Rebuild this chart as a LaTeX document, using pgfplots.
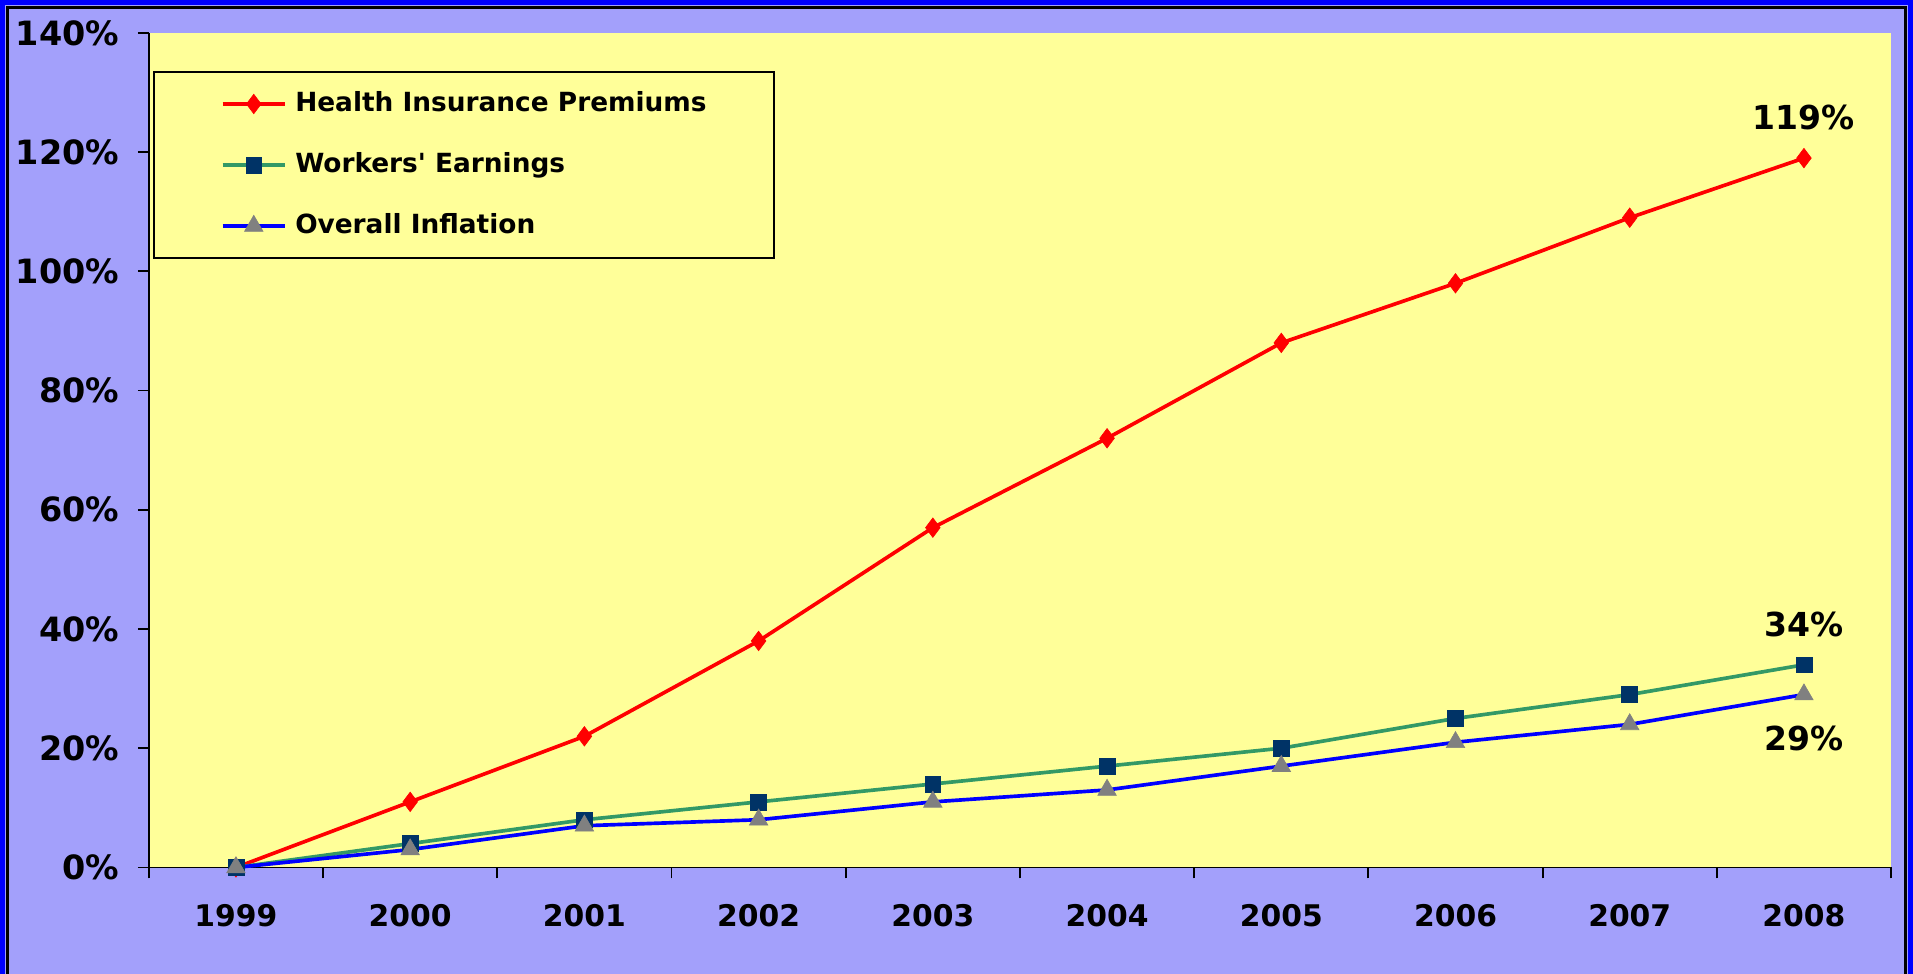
\documentclass[border=0pt]{standalone}
\usepackage{pgfplots}
\pgfplotsset{compat=1.18}
\usepackage{fontspec}
\setmainfont{DejaVu Sans}
\definecolor{bglav}{RGB}{163,160,251}
\definecolor{plotyel}{RGB}{255,255,153}
\definecolor{wgreen}{RGB}{51,153,102}
\definecolor{wnavy}{RGB}{0,51,102}
\definecolor{igray}{RGB}{128,128,128}
\begin{document}
\begin{tikzpicture}
\fill[bglav] (-24.4mm,-17.4mm) rectangle (289.2mm,142.2mm);
\draw[blue, line width=0.8mm] (-24.0mm,-17.4mm) -- (-24.0mm,141.8mm) -- (288.8mm,141.8mm) -- (288.8mm,-17.4mm);
\draw[black, line width=0.4mm] (-23.2mm,-17.4mm) -- (-23.2mm,141.0mm) -- (288.0mm,141.0mm) -- (288.0mm,-17.4mm);
\begin{axis}[
  at={(0,0)}, anchor=south west,
  scale only axis, width=285.6mm, height=136.8mm,
  xmin=-0.5, xmax=9.5, ymin=0, ymax=140,
  axis lines*=left,
  axis line style={black, line width=0.3mm},
  axis background/.style={fill=plotyel},
  clip=false,
  tick align=outside,
  major tick length=1.8mm,
  tick style={black, line width=0.3mm},
  /pgf/number format/assume math mode=true,
  xtick={-0.5,0.5,1.5,2.5,3.5,4.5,5.5,6.5,7.5,8.5,9.5},
  xticklabels={{},{},{},{},{},{},{},{},{},{},{}},
  extra x ticks={0,1,2,3,4,5,6,7,8,9},
  extra x tick labels={1999,2000,2001,2002,2003,2004,2005,2006,2007,2008},
  extra x tick style={major tick length=0pt},
  xticklabel style={font=\fontsize{13.9}{16}\selectfont\bfseries, anchor=base, inner sep=0pt, yshift=-9.6mm},
  ytick={0,20,40,60,80,100,120,140},
  yticklabel={\pgfmathprintnumber{\tick}\%},
  yticklabel style={font=\fontsize{15.6}{18}\selectfont\bfseries, anchor=east, inner sep=0pt, xshift=-3mm},
  legend cell align=left,
  legend style={at={(0.0021,0.9547)}, anchor=north west, draw=black, line width=0.4mm,
    fill=plotyel, inner xsep=11mm, inner ysep=3mm, row sep=5.5mm, column sep=1.4mm,
    font=\fontsize{12.3}{14}\selectfont\bfseries,
    nodes={inner sep=0pt, text height=3.5mm, text depth=1mm}},
  legend image code/.code={\draw[mark repeat=2, mark phase=2, #1] plot coordinates {(0mm,0mm) (5.1mm,0mm) (10.2mm,0mm)};},
]
\addplot[red, line width=0.6mm, mark=diamond*, mark size=1.6mm, mark options={fill=red, draw=red, line width=0.1mm}]
  coordinates {(0,0) (1,11) (2,22) (3,38) (4,57) (5,72) (6,88) (7,98) (8,109) (9,119)};
\addlegendentry{Health Insurance Premiums}
\addplot[wgreen, line width=0.6mm, mark=square*, mark size=1.3mm, mark options={fill=wnavy, draw=wnavy, line width=0.1mm}]
  coordinates {(0,0) (1,4) (2,8) (3,11) (4,14) (5,17) (6,20) (7,25) (8,29) (9,34)};
\addlegendentry{Workers\textquotesingle\ Earnings}
\addplot[blue, line width=0.6mm, mark=triangle*, mark size=1.75mm, mark options={fill=igray, draw=igray, line width=0.1mm}]
  coordinates {(0,0) (1,3) (2,7) (3,8) (4,11) (5,13) (6,17) (7,21) (8,24) (9,29)};
\addlegendentry{Overall Inflation}
\node[font=\fontsize{15.4}{18}\selectfont\bfseries] at (axis cs:9,119) [yshift=6.6mm] {119\%};
\node[font=\fontsize{15.4}{18}\selectfont\bfseries] at (axis cs:9,34) [yshift=6.6mm] {34\%};
\node[font=\fontsize{15.4}{18}\selectfont\bfseries] at (axis cs:9,29) [yshift=-7.2mm] {29\%};
\end{axis}
\pgfresetboundingbox
\path (-24.4mm,-17.4mm) rectangle (289.2mm,142.2mm);
\end{tikzpicture}
\end{document}
